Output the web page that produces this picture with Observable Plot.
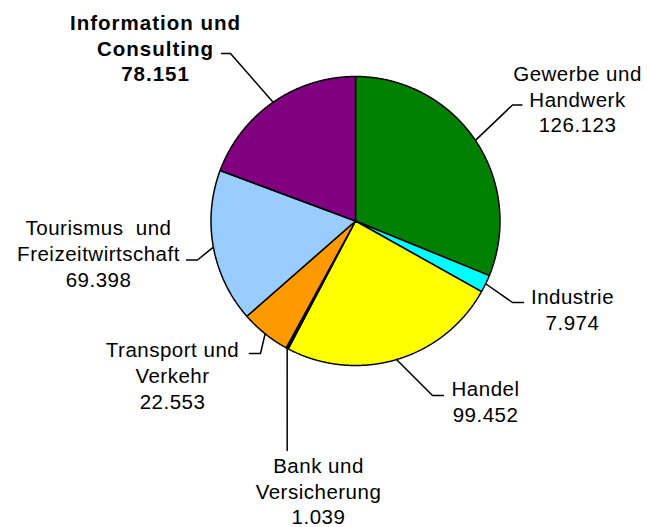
<!DOCTYPE html>
<html>
<head>
<meta charset="utf-8">
<script src="https://cdn.jsdelivr.net/npm/d3@7"></script>
<script src="https://cdn.jsdelivr.net/npm/@observablehq/plot@0.6"></script>
<style>
  html, body { margin: 0; padding: 0; background: #ffffff; }
  #chart svg { display: block; }
  #chart text { letter-spacing: 0.5px; }
  #chart g[font-weight="bold"] text { letter-spacing: 1px; }
</style>
</head>
<body>
<div id="chart"></div>
<script>
// ---- data ----
const categories = [
  "Gewerbe und Handwerk",
  "Industrie",
  "Handel",
  "Bank und Versicherung",
  "Transport und Verkehr",
  "Tourismus und Freizeitwirtschaft",
  "Information und Consulting"
];
const values = [126123, 7974, 99452, 1039, 22553, 69398, 78151];
const labelLines = [
  ["Gewerbe und", "Handwerk"],
  ["Industrie"],
  ["Handel"],
  ["Bank und", "Versicherung"],
  ["Transport und", "Verkehr"],
  ["Tourismus  und", "Freizeitwirtschaft"],
  ["Information und", "Consulting"]
];
const colors = ["#008000", "#00ffff", "#ffff00", "#000000", "#ff9900", "#99ccff", "#800080"];
const boldCategories = ["Information und Consulting"];

// ---- layout (chart units: pie radius = 1, centre = 0,0) ----
const W = 647, H = 527, R = 144.5, CX = 355, CY = 220.5;
const labelLayout = [
  {elbow: [1.0865, 0.8028],   end: [1.1522, 0.8028],   text: [1.5363, 0.6125]},
  {elbow: [1.0865, -0.5640],  end: [1.1626, -0.5640],  text: [1.5017, -0.7509]},
  {elbow: [0.5329, -1.2076],  end: [0.6090, -1.2076],  text: [0.8997, -1.3924]},
  {elbow: [-0.4727, -1.5882], end: [-0.4727, -1.5882], text: [-0.2561, -2.1003]},
  {elbow: [-0.6574, -0.9170], end: [-0.7336, -0.9170], text: [-1.2664, -1.2976]},
  {elbow: [-1.0934, -0.2699], end: [-1.1696, -0.2699], text: [-1.7785, -0.4533]},
  {elbow: [-0.8651, 1.1592],  end: [-0.9273, 1.1592],  text: [-1.3841, 0.9654]}
];

const fmt = d3.formatLocale({decimal: ",", thousands: ".", grouping: [3], currency: ["", " €"]}).format(",d");

const arcs = d3.pie().sort(null).value(d => d)(values);

// slice outlines (geometry derived from d3.pie angles)
const slicePoints = arcs.flatMap((a, i) => {
  const name = categories[i];
  const n = Math.max(2, Math.ceil((a.endAngle - a.startAngle) / 0.004));
  const pts = [{name, x: 0, y: 0}];
  for (let k = 0; k <= n; k++) {
    const t = a.startAngle + (a.endAngle - a.startAngle) * k / n;
    pts.push({name, x: Math.sin(t), y: Math.cos(t)});
  }
  pts.push({name, x: 0, y: 0});
  return pts;
});

// leader lines
const leaderPoints = arcs.flatMap((a, i) => {
  const name = categories[i];
  const mid = (a.startAngle + a.endAngle) / 2;
  const L = labelLayout[i];
  return [
    {name, x: Math.sin(mid), y: Math.cos(mid)},
    {name, x: L.elbow[0], y: L.elbow[1]},
    {name, x: L.end[0], y: L.end[1]}
  ];
});

const labels = categories.map((name, i) => ({
  name,
  x: labelLayout[i].text[0],
  y: labelLayout[i].text[1],
  label: [...labelLines[i], fmt(values[i])].join("\n"),
  bold: boldCategories.includes(name)
}));

const textStyle = {
  x: "x", y: "y", text: "label",
  textAnchor: "middle", lineAnchor: "bottom",
  lineHeight: 1.26, fontSize: 20.5,
  fontFamily: "'Liberation Sans', Arial, sans-serif",
  fill: "#000000"
};

const chart = Plot.plot({
  width: W,
  height: H,
  margin: 0,
  style: {background: "#ffffff", fontFamily: "'Liberation Sans', Arial, sans-serif"},
  x: {domain: [-CX / R, (W - CX) / R], range: [0, W], axis: null},
  y: {domain: [-(H - CY) / R, CY / R], range: [H, 0], axis: null},
  color: {domain: categories, range: colors},
  marks: [
    Plot.line(slicePoints, {x: "x", y: "y", z: "name", fill: "name", stroke: "#000000", strokeWidth: 1.5, strokeLinejoin: "miter"}),
    Plot.line(leaderPoints, {x: "x", y: "y", z: "name", stroke: "#000000", strokeWidth: 1.5, strokeLinejoin: "miter"}),
    Plot.text(labels.filter(d => !d.bold), {...textStyle, fontWeight: "normal"}),
    Plot.text(labels.filter(d => d.bold), {...textStyle, fontWeight: "bold"})
  ]
});

document.getElementById("chart").appendChild(chart);
</script>
</body>
</html>
